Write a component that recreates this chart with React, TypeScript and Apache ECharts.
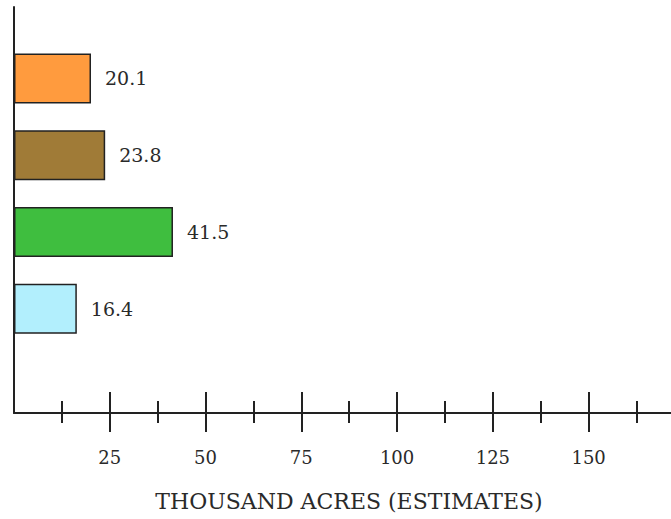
import React, { useEffect, useRef } from "react";
import * as echarts from "echarts";

const categories = ["Orange", "Brown", "Green", "Light blue"];
const values = [20.1, 23.8, 41.5, 16.4];
const barColors = ["#FF9B3E", "#A07B37", "#3FBE3F", "#B2EFFD"];
const majorTicks = [25, 50, 75, 100, 125, 150];
const minorTicks = [12.5, 37.5, 62.5, 87.5, 112.5, 137.5, 162.5];
const axisTitle = "THOUSAND ACRES (ESTIMATES)";

const FONT = "'DejaVu Serif', 'Liberation Serif', serif";
const INK = "#222";
const X_MAX = 171.5;

export default function App() {
  const ref = useRef<HTMLDivElement>(null);
  useEffect(() => {
    if (!ref.current) return;
    const chart = echarts.init(ref.current, null, { renderer: "svg" });
    const tickAxis = (vals: number[], len: number, inside: boolean, extra: any = {}) => ({
      type: "value",
      gridIndex: 1,
      position: "bottom",
      offset: 0,
      min: 0,
      max: X_MAX,
      axisLine: { show: false },
      axisTick: { show: true, customValues: vals, length: len, inside, lineStyle: { color: INK, width: 2 } },
      axisLabel: { show: false },
      splitLine: { show: false },
      ...extra,
    });
    chart.setOption({
      animation: false,
      backgroundColor: "#ffffff",
      grid: [
        { left: 14, width: 657, top: 40, height: 307 },
        { left: 14, width: 657, top: 7, height: 406 },
      ],
      xAxis: [
        { type: "value", gridIndex: 0, min: 0, max: X_MAX, show: false },
        tickAxis(majorTicks, 19, false, {
          axisLine: { show: true, lineStyle: { color: INK, width: 2 } },
          axisLabel: {
            show: true,
            customValues: majorTicks,
            margin: 35,
            fontFamily: FONT,
            fontSize: 18,
            color: "#2a2a2a",
          },
        }),
        tickAxis(majorTicks, 21, true),
        tickAxis(minorTicks, 10, false),
        tickAxis(minorTicks, 12, true),
      ],
      yAxis: [
        { type: "category", gridIndex: 0, data: categories, inverse: true, show: false },
        {
          type: "value",
          gridIndex: 1,
          min: 0,
          max: 1,
          axisLine: { show: true, lineStyle: { color: INK, width: 2 } },
          axisTick: { show: false },
          axisLabel: { show: false },
          splitLine: { show: false },
        },
      ],
      series: [
        {
          type: "bar",
          xAxisIndex: 0,
          yAxisIndex: 0,
          barWidth: 50,
          data: values.map((v, i) => ({ value: v, itemStyle: { color: barColors[i] } })),
          itemStyle: { borderColor: INK, borderWidth: 1.5 },
          label: {
            show: true,
            position: "right",
            distance: 14,
            formatter: (p: any) => Number(p.value).toFixed(1),
            fontFamily: FONT,
            fontSize: 19,
            color: "#2a2a2a",
          },
        },
      ],
      graphic: [
        {
          type: "text",
          x: 349,
          y: 501,
          style: {
            text: axisTitle,
            fontFamily: FONT,
            fontSize: 22,
            fill: "#2a2a2a",
            textAlign: "center",
            textVerticalAlign: "middle",
          },
        },
      ],
    });
    return () => chart.dispose();
  }, []);
  return (
    <div
      ref={ref}
      style={{ position: "fixed", left: 0, top: 0, width: 671, height: 519, background: "#fff" }}
    />
  );
}
